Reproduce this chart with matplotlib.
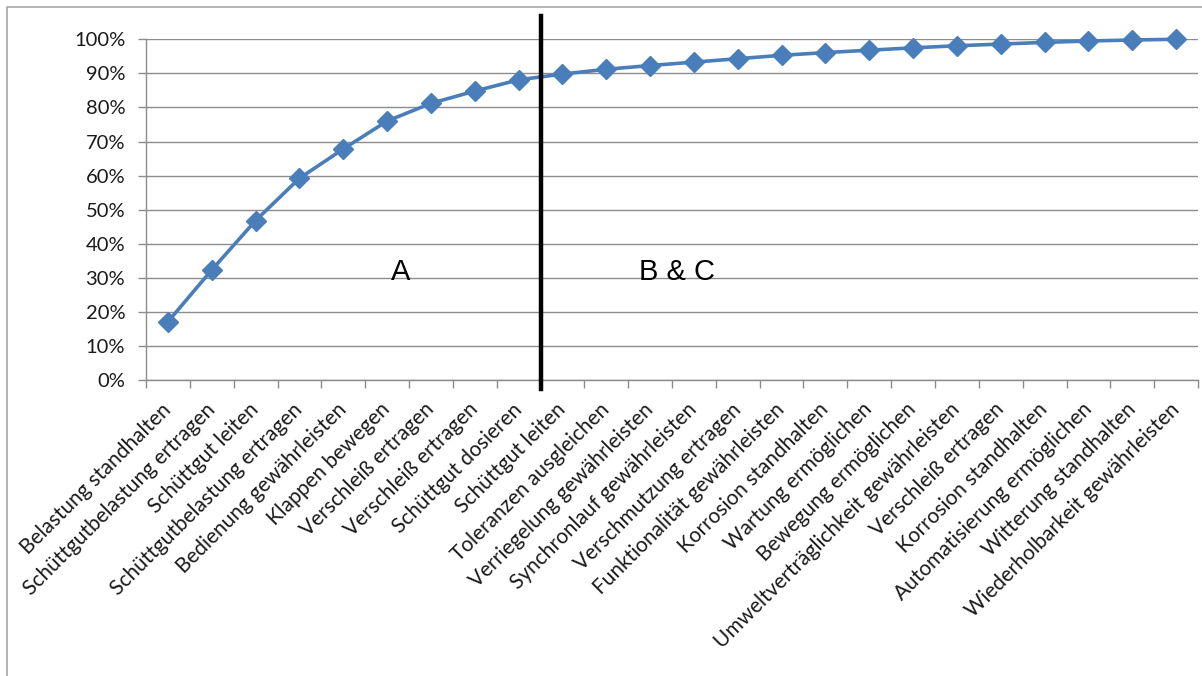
import matplotlib
matplotlib.use("Agg")
import matplotlib.pyplot as plt
from matplotlib.lines import Line2D
from matplotlib.ticker import FixedLocator, PercentFormatter

categories = [
    "Belastung standhalten", "Schüttgutbelastung ertragen", "Schüttgut leiten",
    "Schüttgutbelastung ertragen", "Bedienung gewährleisten", "Klappen bewegen",
    "Verschleiß ertragen", "Verschleiß ertragen", "Schüttgut dosieren",
    "Schüttgut leiten", "Toleranzen ausgleichen", "Verriegelung gewährleisten",
    "Synchronlauf gewährleisten", "Verschmutzung ertragen", "Funktionalität gewährleisten",
    "Korrosion standhalten", "Wartung ermöglichen", "Bewegung ermöglichen",
    "Umweltverträglichkeit gewährleisten", "Verschleiß ertragen", "Korrosion standhalten",
    "Automatisierung ermöglichen", "Witterung standhalten", "Wiederholbarkeit gewährleisten",
]
cumulative = [17.1, 32.3, 46.8, 59.2, 67.8, 76.0, 81.2, 84.8, 88.1, 89.8, 91.2, 92.3,
              93.3, 94.3, 95.3, 96.1, 96.8, 97.5, 98.1, 98.6, 99.1, 99.5, 99.8, 100.0]
yticks = [0, 10, 20, 30, 40, 50, 60, 70, 80, 90, 100]
split_after = 9
zone_labels = ["A", "B & C"]

W, H = 1202, 676
fig = plt.figure(figsize=(W / 100, H / 100), dpi=100)
fig.patch.set_facecolor("white")

# outer chart border (left and top edges visible)
fig.add_artist(Line2D([7 / W, 7 / W, 1.0], [0.0, 1 - 7 / H, 1 - 7 / H],
                      transform=fig.transFigure, color="#a6a6a6", lw=1.2))

left, right = 146 / W, 1198 / W
bottom, top = 1 - 380 / H, 1 - 39.3 / H
ax = fig.add_axes([left, bottom, right - left, top - bottom])

x = list(range(len(categories)))
ax.plot(x, cumulative, color="#4a7ebb", lw=2.6, marker="D", ms=10,
        markeredgecolor="#4a7ebb", zorder=3, clip_on=False)

ax.set_xlim(-0.5, len(categories) - 0.5)
ax.set_ylim(0, 100)
ax.yaxis.set_major_locator(FixedLocator(yticks))
ax.yaxis.set_major_formatter(PercentFormatter(decimals=0))
ax.grid(axis="y", color="#8c8c8c", lw=1.0)
ax.set_axisbelow(True)

for s in ["top", "right"]:
    ax.spines[s].set_visible(False)
for s in ["left", "bottom"]:
    ax.spines[s].set_color("#8c8c8c")
    ax.spines[s].set_linewidth(1.0)

ax.set_xticks([i - 0.5 for i in range(len(categories) + 1)], minor=False)
ax.set_xticklabels([])
ax.tick_params(axis="x", which="major", length=6, color="#8c8c8c", width=1)
ax.set_xticks(x, minor=True)
ax.set_xticklabels(categories, minor=True, rotation=45, ha="right",
                   va="center", rotation_mode="anchor", fontsize=15,
                   family=["Lato", "DejaVu Sans"], color="#1a1a1a")
ax.tick_params(axis="x", which="minor", length=0, pad=19)
ax.tick_params(axis="y", length=6, color="#8c8c8c", width=1, labelsize=14.5,
               pad=9, labelcolor="#1a1a1a")
for lab in ax.get_yticklabels():
    lab.set_family(["Lato", "DejaVu Sans"])

# split line between zone A and B & C
ax.axvline(split_after - 0.5, ymin=-0.025, ymax=1.068, color="black", lw=3.2,
           clip_on=False, zorder=4)

ax.text(5.32, 31.6, zone_labels[0], fontsize=21, family="Liberation Sans",
        ha="center", va="center")
ax.text(11.61, 31.6, zone_labels[1], fontsize=21, family="Liberation Sans",
        ha="center", va="center")

fig.savefig("out.png", dpi=100, facecolor="white")
